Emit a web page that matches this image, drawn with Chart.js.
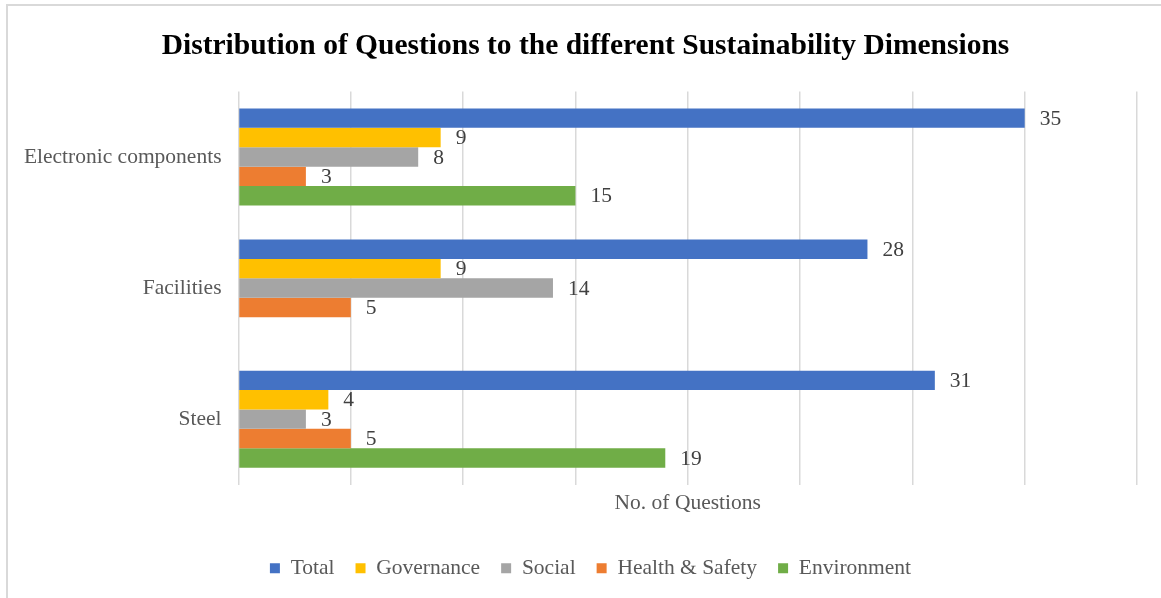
<!DOCTYPE html>
<html>
<head>
<meta charset="utf-8">
<script src="https://cdn.jsdelivr.net/npm/chart.js@4"></script>
<style>
    html, body { margin: 0; padding: 0; background: #fff; }
    #wrap { width: 1161px; height: 598px; }
</style>
</head>
<body>
<div id="wrap"><canvas id="questionsChart"></canvas></div>
<script>
var categories = ['Electronic components', 'Facilities', 'Steel'];
var seriesNames = ['Total', 'Governance', 'Social', 'Health & Safety', 'Environment'];
var totalValues = [35, 28, 31];
var governanceValues = [9, 9, 4];
var socialValues = [8, 14, 3];
var healthSafetyValues = [3, 5, 5];
var environmentValues = [15, null, 19];
var xTicks = [0, 5, 10, 15, 20, 25, 30, 35, 40];

var seriesColors = ['#4472C4', '#FFC000', '#A5A5A5', '#ED7D31', '#70AD47'];
var seriesValues = [totalValues, governanceValues, socialValues, healthSafetyValues, environmentValues];
var serif = "'Liberation Serif', 'Times New Roman', serif";

// frame lines round the chart (top + left only are visible)
var framePlugin = {
    id: 'frame',
    beforeDraw: function (chart) {
        var ctx = chart.ctx;
        ctx.save();
        ctx.fillStyle = '#fff';
        ctx.fillRect(0, 0, chart.width, chart.height);
        ctx.strokeStyle = '#D9D9D9';
        ctx.lineWidth = 2;
        ctx.beginPath();
        ctx.moveTo(7, chart.height);
        ctx.lineTo(7, 5);
        ctx.lineTo(chart.width, 5);
        ctx.stroke();
        ctx.restore();
    }
};

// title and legend sit a bit right of the canvas centre in the original
var nudgeBlocks = {
    id: 'nudgeBlocks',
    afterLayout: function (chart) {
        if (chart.titleBlock) {
            chart.titleBlock.left += 11;
            chart.titleBlock.right += 11;
        }
        if (chart.legend) {
            chart.legend.left += 16;
            chart.legend.right += 16;
        }
    }
};

// value labels to the right of each bar
var valueLabels = {
    id: 'valueLabels',
    afterDatasetsDraw: function (chart) {
        var ctx = chart.ctx;
        ctx.save();
        ctx.font = '21.5px ' + serif;
        ctx.fillStyle = '#404040';
        ctx.textAlign = 'left';
        ctx.textBaseline = 'middle';
        chart.data.datasets.forEach(function (ds, i) {
            chart.getDatasetMeta(i).data.forEach(function (bar, j) {
                var v = ds.data[j];
                if (v === null || v === undefined) return;
                ctx.fillText(String(v), bar.x + 15, bar.y + 1);
            });
        });
        ctx.restore();
    }
};

var ctx = document.getElementById('questionsChart').getContext('2d');
var chart = new Chart(ctx, {
    type: 'bar',
    data: {
        labels: categories,
        datasets: seriesNames.map(function (name, i) {
            return {
                label: name,
                data: seriesValues[i],
                backgroundColor: seriesColors[i],
                borderWidth: 0,
                categoryPercentage: 0.74,
                barPercentage: 1.0
            };
        })
    },
    options: {
        indexAxis: 'y',
        responsive: true,
        maintainAspectRatio: false,
        animation: false,
        layout: {
            padding: { left: 12, right: 24, top: 0, bottom: 9 }
        },
        scales: {
            x: {
                min: 0,
                max: 40,
                afterBuildTicks: function (scale) {
                    scale.ticks = xTicks.map(function (v) { return { value: v }; });
                },
                ticks: { display: false },
                grid: { color: '#D9D9D9', lineWidth: 1.5, drawTicks: false },
                border: { display: false },
                title: {
                    display: true,
                    text: 'No. of Questions',
                    color: '#595959',
                    font: { family: serif, size: 21.5 },
                    padding: { top: 6, bottom: 20 }
                }
            },
            y: {
                grid: { display: false, drawTicks: false },
                border: { display: false },
                ticks: {
                    color: '#595959',
                    font: { family: serif, size: 21.5 },
                    padding: 17
                },
                afterFit: function (scale) {
                    scale.width = 226.5;
                }
            }
        },
        plugins: {
            title: {
                display: true,
                text: 'Distribution of Questions to the different Sustainability Dimensions',
                color: '#000',
                font: { family: serif, size: 29.5, weight: 'bold' },
                padding: { top: 29, bottom: 27 }
            },
            legend: {
                position: 'bottom',
                labels: {
                    color: '#595959',
                    font: { family: serif, size: 21.5 },
                    boxWidth: 10,
                    boxHeight: 10,
                    padding: 21
                }
            },
            tooltip: { enabled: false }
        }
    },
    plugins: [framePlugin, nudgeBlocks, valueLabels]
});
</script>
</body>
</html>
